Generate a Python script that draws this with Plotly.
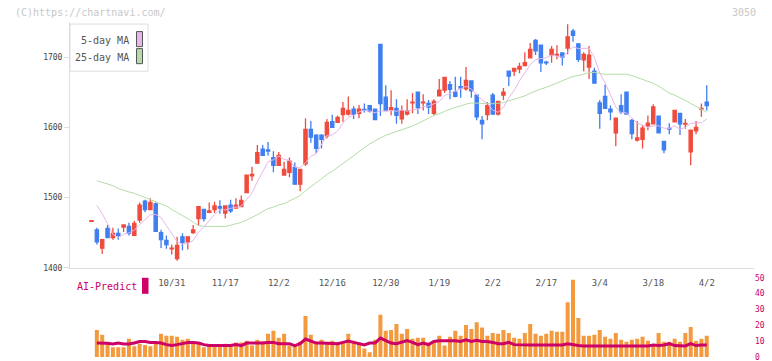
import plotly.graph_objects as go
import pandas as pd

# ---------------- data ----------------
tick_idx = [15, 25, 35, 45, 55, 65, 75, 85, 95, 105, 115]
tick_text = ["10/31", "11/17", "12/2", "12/16", "12/30", "1/19", "2/2", "2/17", "3/4", "3/18", "4/2"]

opens = [1466, 1454, 1428, 1456, 1443, 1449, 1458, 1459, 1446, 1468,
         1495, 1483, 1491, 1450, 1439, 1427, 1413, 1444, 1437, 1450,
         1470, 1483, 1479, 1483, 1487, 1478, 1489, 1485, 1487, 1507,
         1531, 1549, 1569, 1568, 1557, 1546, 1532, 1536, 1543, 1519,
         1548, 1597, 1589, 1589, 1588, 1608, 1607, 1618, 1619, 1626,
         1620, 1625.5, 1631, 1626, 1718, 1643, 1625, 1627, 1612, 1619,
         1635, 1650, 1635, 1634, 1620, 1645, 1653, 1661, 1650, 1658,
         1655, 1666, 1646, 1610, 1618, 1646, 1619, 1646, 1680, 1680,
         1683, 1688, 1699, 1724, 1717, 1693, 1703, 1703, 1706, 1713,
         1737, 1719, 1696, 1686, 1680, 1635, 1644, 1626, 1592, 1631,
         1650, 1610, 1582, 1583, 1602, 1605, 1616, 1580, 1598.5, 1608,
         1620, 1604.5, 1565, 1595, 1626, 1636]
highs = [1467, 1457, 1440, 1461, 1457, 1456, 1461, 1464, 1467, 1493,
         1497, 1499, 1493, 1454, 1446, 1433, 1444, 1449, 1444, 1461,
         1487, 1484, 1493, 1494, 1496, 1488, 1497, 1499, 1503, 1532,
         1544, 1575, 1575, 1579, 1566, 1565, 1551, 1557, 1550, 1540,
         1613, 1609, 1590, 1590, 1612, 1618, 1617, 1636, 1644, 1630,
         1632, 1634, 1631, 1626, 1718, 1660, 1653, 1640, 1631, 1640,
         1649, 1650, 1647, 1639, 1640, 1669, 1671, 1666, 1672, 1672,
         1686, 1666, 1646, 1616, 1636, 1649, 1637, 1656, 1680, 1684,
         1692, 1707, 1720, 1726, 1717, 1695, 1716, 1717, 1706, 1747,
         1740, 1719, 1707, 1716, 1685, 1639, 1661, 1631, 1613, 1647,
         1650, 1612, 1609, 1603, 1617, 1633, 1616, 1580, 1606, 1624,
         1620, 1612, 1596, 1609, 1634, 1660]
lows = [1466, 1433, 1420, 1443, 1440, 1440, 1451, 1446, 1446, 1464,
        1479, 1483, 1452, 1428, 1427, 1419, 1410, 1425, 1426, 1448,
        1460, 1466, 1478, 1478, 1477, 1470, 1478, 1485, 1486, 1507,
        1524, 1549, 1560, 1560, 1536, 1546, 1532, 1529, 1519, 1509,
        1545, 1578, 1563, 1570, 1584, 1600, 1607, 1608, 1617, 1612,
        1613, 1621, 1621, 1610, 1616, 1624, 1617, 1605, 1605, 1617,
        1620, 1619, 1624, 1619, 1617, 1645, 1649, 1640, 1643, 1642,
        1652, 1642, 1610, 1583, 1610, 1619, 1617, 1639, 1659, 1673,
        1677, 1688, 1699, 1703, 1679, 1689, 1692, 1697, 1688, 1704,
        1722, 1693, 1680, 1669, 1663, 1598, 1627, 1610, 1573, 1619,
        1619, 1583, 1580, 1570, 1596, 1605, 1592, 1563, 1590, 1608,
        1589, 1598, 1546, 1590, 1615, 1624]
closes = [1467, 1437, 1440, 1443, 1449, 1446, 1461, 1449, 1463, 1489,
          1483, 1493, 1452, 1440, 1433, 1428, 1432, 1436, 1444, 1454,
          1487, 1470, 1481, 1488, 1485, 1488, 1481, 1489, 1496, 1532,
          1533, 1564, 1560, 1566, 1546, 1560, 1540, 1552, 1519, 1540,
          1597, 1586, 1570, 1583, 1607, 1600, 1614, 1627, 1624, 1619,
          1626, 1624.5, 1623, 1611, 1634, 1624, 1628, 1617, 1623, 1623,
          1636, 1628, 1636, 1629, 1637, 1653, 1671, 1654, 1644, 1656,
          1667, 1652, 1615, 1605, 1631, 1619, 1637, 1650, 1673, 1684,
          1687, 1692, 1711, 1709, 1692, 1692, 1711, 1704, 1700, 1729,
          1731, 1697, 1704, 1703, 1663, 1620, 1627, 1622, 1613, 1622,
          1619, 1591, 1585, 1599, 1606, 1629, 1592, 1568, 1597.5, 1624,
          1605, 1605.5, 1596, 1600, 1627, 1631]

ma5_head = [None, 1489, 1477, 1463]
ma25_head = [None, 1524, 1522, 1519, 1517, 1513, 1510, 1508, 1506, 1503,
             1500, 1497, 1494, 1491, 1488, 1483, 1479, 1475, 1470, 1465,
             1460, 1459, 1459, 1459]

volume = [None, 17.1, 14.0, 9.0, 6.1, 6.1, 6.1, 11.5, 6.8, 8.4,
          7.6, 6.8, 9.2, 14.6, 13.4, 13.4, 12.7, 10.9, 11.5, 9.2,
          9.2, 6.1, 7.8, 6.8, 7.2, 8.4, 7.2, 9.2, 9.2, 10.3,
          7.2, 10.9, 9.8, 14.6, 16.5, 12.1, 14.6, 7.2, 7.2, 9.8,
          25.8, 14.0, 9.2, 10.9, 9.2, 10.3, 9.2, 9.2, 14.6, 10.3,
          9.2, 5.3, 3.0, 10.9, 26.6, 16.5, 17.1, 20.8, 14.6, 17.7,
          11.5, 12.1, 12.1, 9.2, 10.3, 13.4, 7.2, 12.7, 16.5, 13.4,
          20.2, 17.7, 22.0, 18.6, 13.4, 15.2, 14.6, 17.1, 15.2, 12.1,
          11.5, 15.2, 20.8, 14.6, 13.4, 14.6, 16.5, 15.9, 15.9, 34.5,
          48.8, 24.6, 13.4, 13.4, 14.0, 17.1, 12.7, 11.5, 15.2, 10.9,
          9.6, 10.9, 11.5, 12.7, 10.3, 7.2, 15.2, 9.6, 9.6, 11.5,
          9.6, 15.2, 19.0, 10.3, 11.5, 13.4]
ai_predict = [None, 8.8, 8.8, 8.6, 8.2, 8.8, 8.2, 8.2, 8.8, 9.8,
              9.8, 9.2, 9.2, 8.8, 7.8, 7.2, 7.8, 8.4, 9.2, 9.2,
              8.8, 7.8, 7.2, 7.2, 7.2, 7.2, 7.2, 7.8, 7.2, 8.8,
              8.8, 8.4, 8.8, 9.2, 9.2, 8.4, 8.4, 8.4, 7.2, 8.4,
              11.3, 9.8, 8.8, 8.8, 8.8, 8.4, 8.4, 9.2, 10.1, 9.2,
              8.4, 7.6, 8.8, 8.8, 11.9, 10.5, 8.8, 8.4, 9.2, 10.3,
              9.2, 7.8, 8.8, 7.8, 9.8, 10.3, 10.3, 10.3, 10.3, 9.8,
              10.9, 9.8, 10.5, 9.8, 9.8, 9.2, 8.4, 8.4, 9.2, 7.8,
              7.6, 7.6, 7.6, 7.6, 7.6, 7.6, 7.6, 7.6, 7.6, 8.4,
              7.6, 7.2, 7.0, 7.0, 7.0, 7.0, 7.0, 7.0, 7.0, 7.0,
              7.0, 7.0, 7.0, 7.0, 7.0, 7.6, 7.2, 7.6, 8.4, 7.2,
              7.0, 7.0, 8.4, 7.2, 7.6, 7.6]
vol_ticks = [0, 10, 20, 30, 40, 50]
price_ticks = [1400, 1500, 1600, 1700]

# ---------------- derived series ----------------
idx = list(range(len(closes)))
cs = pd.Series(closes, dtype=float)
ma5_calc = cs.rolling(5).mean().tolist()
ma25_calc = cs.rolling(25).mean().tolist()
ma5 = ma5_head + ma5_calc[len(ma5_head):]
ma25 = ma25_head + ma25_calc[len(ma25_head):]

# ---------------- layout helpers ----------------
W, H = 772, 361          # reference pixel frame
FIG_H = 367              # rendered height (photo comes out slightly squeezed vertically)
FONT = "DejaVu Sans Mono"
def fx(px):
    return px / W
def fy(py):
    return 1 - py / H

X0_PX, X1_PX = 70, 754          # plot area in pixels
STEP, FIRST = 5.35, 91.5         # candle pitch and first candle centre (px)
xr = [(X0_PX - FIRST) / STEP, (X1_PX - FIRST) / STEP]
VOL0_PX, VOLTOP_PX, VOL_PXU = 356, 270, 1.58   # volume panel: zero line, top, px per unit

RED, BLUE = "#f04b3c", "#3f7ff0"

fig = go.Figure()
fig.add_trace(go.Candlestick(
    x=idx, open=opens, high=highs, low=lows, close=closes,
    increasing=dict(line=dict(color=RED, width=1.3), fillcolor=RED),
    decreasing=dict(line=dict(color=BLUE, width=1.3), fillcolor=BLUE),
    whiskerwidth=0, showlegend=False, hoverinfo="skip", xaxis="x", yaxis="y"))
fig.add_trace(go.Scatter(x=idx, y=ma25, mode="lines", line=dict(color="#b5dca8", width=1),
                         showlegend=False, hoverinfo="skip", xaxis="x", yaxis="y"))
fig.add_trace(go.Scatter(x=idx, y=ma5, mode="lines", line=dict(color="#e8b6ea", width=1),
                         showlegend=False, hoverinfo="skip", xaxis="x", yaxis="y"))
fig.add_trace(go.Bar(x=idx, y=volume, width=0.75, marker=dict(color="#f39a3e", line=dict(width=0)),
                     showlegend=False, hoverinfo="skip", xaxis="x2", yaxis="y2"))
fig.add_trace(go.Scatter(x=idx, y=ai_predict, mode="lines", line=dict(color="#cc0066", width=3),
                         showlegend=False, hoverinfo="skip", xaxis="x2", yaxis="y2"))

fig.update_layout(
    width=W, height=FIG_H, margin=dict(l=0, r=0, t=0, b=0),
    paper_bgcolor="white", plot_bgcolor="rgba(0,0,0,0)",
    boxgap=0.14,
    font=dict(family=FONT, color="#444"),
    xaxis=dict(domain=[fx(X0_PX), fx(X1_PX)], range=xr, anchor="y",
               showline=True, linecolor="#dddddd", linewidth=1,
               showgrid=False, zeroline=False, rangeslider=dict(visible=False),
               tickmode="array", tickvals=tick_idx, ticktext=tick_text,
               ticks="", ticklabelstandoff=6, tickfont=dict(size=9, color="#555", family=FONT)),
    xaxis3=dict(overlaying="x", anchor="y", domain=[fx(X0_PX), fx(X1_PX)],
                range=[0, X1_PX - X0_PX], tickmode="linear", tick0=1, dtick=62,
                ticks="outside", ticklen=5, tickcolor="#dddddd", tickwidth=1,
                showticklabels=False, showline=False, showgrid=False, zeroline=False),
    yaxis=dict(domain=[fy(267), fy(22)], range=[1400, 1400 + (267 - 22) / 0.7], anchor="x",
               showline=True, linecolor="#dddddd", linewidth=1,
               showgrid=False, zeroline=False,
               tickmode="array", tickvals=price_ticks,
               ticks="outside", ticklen=5, tickcolor="#dddddd",
               tickfont=dict(size=8, color="#444", family=FONT)),
    xaxis2=dict(domain=[fx(X0_PX), fx(X1_PX)], range=xr, anchor="y2",
                showline=False, showgrid=False, zeroline=False, showticklabels=False, ticks=""),
    yaxis2=dict(domain=[fy(VOL0_PX), fy(VOLTOP_PX)], range=[0, (VOL0_PX - VOLTOP_PX) / VOL_PXU],
                anchor="x2", side="right", showline=False, showgrid=False, zeroline=False,
                tickmode="array", tickvals=vol_ticks, ticks="",
                tickfont=dict(size=8, color="#cc0066", family=FONT)),
)

shapes = [
    # legend box
    dict(type="rect", xref="paper", yref="paper", x0=fx(70), x1=fx(148), y0=fy(71), y1=fy(24),
         line=dict(color="#dddddd", width=1), fillcolor="white", layer="above"),
    dict(type="rect", xref="paper", yref="paper", x0=fx(136.5), x1=fx(142.5), y0=fy(46.5), y1=fy(31.5),
         line=dict(color="#555", width=1), fillcolor="#e8b6ea", layer="above"),
    dict(type="rect", xref="paper", yref="paper", x0=fx(136.5), x1=fx(142.5), y0=fy(63.5), y1=fy(48.5),
         line=dict(color="#555", width=1), fillcolor="#b5dca8", layer="above"),
    # AI-Predict swatch
    dict(type="rect", xref="paper", yref="paper", x0=fx(142), x1=fx(148.5), y0=fy(293), y1=fy(277),
         line=dict(width=0), fillcolor="#cc0066", layer="above"),
]
annotations = [
    dict(text="(C)https://chartnavi.com/", xref="paper", yref="paper", x=fx(13), y=fy(12.5),
         xanchor="left", yanchor="middle", showarrow=False, font=dict(size=10, color="#c8c8c8", family=FONT)),
    dict(text="3050", xref="paper", yref="paper", x=fx(758), y=fy(12.5),
         xanchor="right", yanchor="middle", showarrow=False, font=dict(size=10, color="#c8c8c8", family=FONT)),
    dict(text="5-day MA", xref="paper", yref="paper", x=fx(131), y=fy(40),
         xanchor="right", yanchor="middle", showarrow=False, font=dict(size=10, color="#555", family=FONT)),
    dict(text="25-day MA", xref="paper", yref="paper", x=fx(131), y=fy(57),
         xanchor="right", yanchor="middle", showarrow=False, font=dict(size=10, color="#555", family=FONT)),
    dict(text="AI-Predict", xref="paper", yref="paper", x=fx(75), y=fy(285.5),
         xanchor="left", yanchor="middle", showarrow=False, font=dict(size=10, color="#cc0066", family=FONT)),
]
fig.update_layout(shapes=shapes, annotations=annotations)

fig.write_html("out.html", config={"displayModeBar": False},
               post_script="document.body.style.margin='0px';document.body.style.padding='0px';"
                           "document.body.style.overflow='hidden';")
